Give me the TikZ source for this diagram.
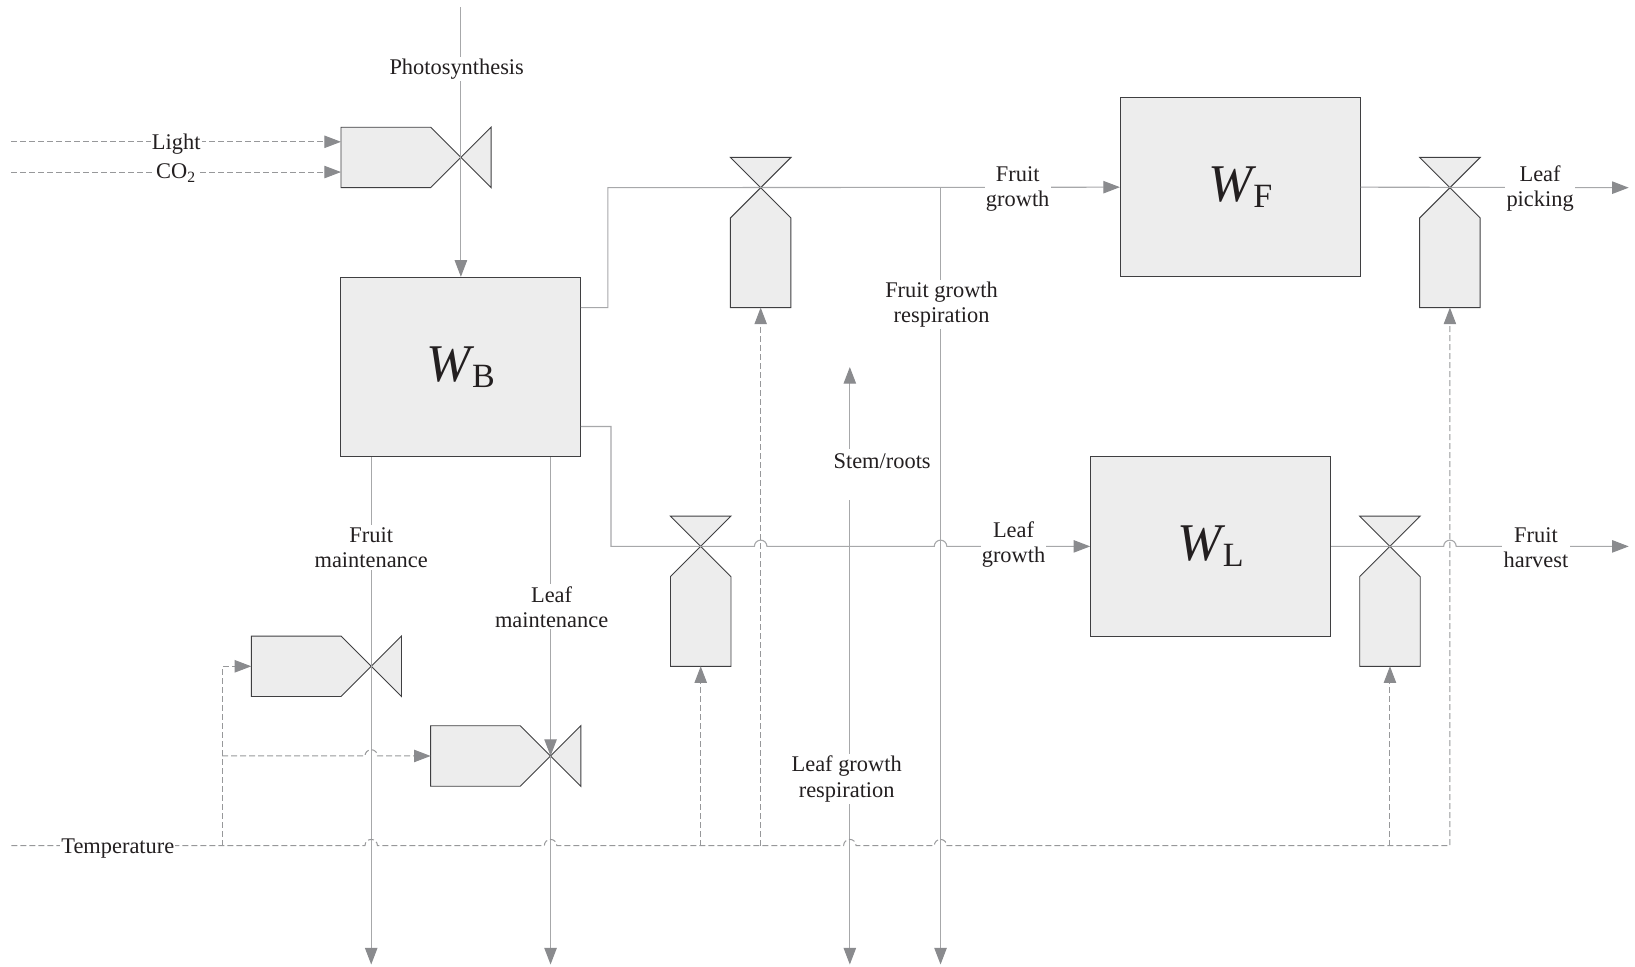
\documentclass[tikz,border=0pt]{standalone}
\usepackage{fontspec}
\setmainfont{Liberation Serif}
\usetikzlibrary{arrows.meta}
\definecolor{boxfill}{HTML}{EDEDED}
\definecolor{edgedark}{HTML}{3F3F41}
\definecolor{flowgray}{HTML}{A7A8AA}
\definecolor{infogray}{HTML}{97989A}
\definecolor{tipgray}{HTML}{8A8B8E}
\definecolor{inktext}{HTML}{231F20}
\newcommand{\stock}[1]{\raisebox{-1.2pt}{{\fontsize{26.5}{26.5}\selectfont\itshape W}\kern0.5pt\raisebox{-3.2pt}{\fontsize{17}{17}\selectfont #1}}}
\newcommand{\hop}[2]{-- ({#1-6},#2) arc[start angle=180,end angle=360,radius=6]}
\tikzset{
  hvalve/.pic={
    \draw[valve] (-115,-29) -- (-29,-29) -- (29,29) -- (29,-29) -- (-29,29) -- (-115,29) -- cycle;
    \coordinate (-x) at (0,0);
    \coordinate (-in) at (-115,0);
  },
  vvalve/.pic={
    \draw[valve] (-29,-29) -- (29,-29) -- (-29,29) -- (-29,115) -- (29,115) -- (29,29) -- cycle;
    \coordinate (-x) at (0,0);
    \coordinate (-in) at (0,115);
  }
}
\begin{document}
\begin{tikzpicture}[
  x=0.52135pt, y=-0.52135pt,
  stockbox/.style = {draw=edgedark, fill=boxfill, line width=0.5pt, text=inktext,
    minimum width=119.9pt, minimum height=89.7pt, inner sep=0pt},
  valve/.style = {draw=edgedark, fill=boxfill, line width=0.45pt},
  flow/.style = {draw=flowgray, line width=0.55pt},
  flowto/.style = {flow, -{Triangle[length=8.3pt,width=6.2pt,color=tipgray]}},
  info/.style = {draw=infogray, line width=0.5pt, dash pattern=on 3pt off 1.5pt},
  infoto/.style = {info, -{Triangle[length=8.3pt,width=6.2pt,color=tipgray]}},
  lbl/.style = {fill=white, text=inktext, align=center, inner xsep=0.6pt, inner ysep=1pt,
    font=\fontsize{11.2}{12.6}\selectfont}
  ]
  \useasboundingbox (0,0) rectangle (1568,927);

  \node[stockbox] (wb) at (442,352) {\stock{B}};
  \node[stockbox] (wf) at (1189.5,179.5) {\stock{F}};
  \node[stockbox] (wl) at (1161,524) {\stock{L}};

  \pic (vphoto) at (442,151) {hvalve};
  \pic (vfm) at (356,639) {hvalve};
  \pic (vlm) at (528,725) {hvalve};
  \pic (vfg) at (729.5,180) {vvalve};
  \pic (vlp) at (1390.5,180) {vvalve};
  \pic (vlg) at (672,524) {vvalve};
  \pic (vfh) at (1333,524) {vvalve};

  \coordinate (photoin) at (442,7);
  \coordinate (lightin) at (11,136);
  \coordinate (co2in) at (11,165);
  \coordinate (tempin) at (11,811);
  \coordinate (fgout) at (557,295);
  \coordinate (lgout) at (557,409);
  \coordinate (fgtee) at (902,180);
  \coordinate (fgrend) at (902,925);
  \coordinate (lgtee) at (815,524);
  \coordinate (stemend) at (815,352);
  \coordinate (lgrend) at (815,925);
  \coordinate (fmend) at (356,925);
  \coordinate (lmend) at (528,925);
  \coordinate (lpend) at (1562,180);
  \coordinate (fhend) at (1562,524);
  \coordinate (tempa) at (213,811);
  \coordinate (tempb) at (213,725);

  \draw[flowto] (photoin) -- (wb.north);
  \draw[flowto] (fgout) -| (583,180) -- (wf.west);
  \draw[flowto] (lgout) -| (586,524) \hop{729.5}{524} \hop{902}{524} -- (wl.west);
  \draw[flowto] (wf.east) -- (lpend);
  \draw[flowto] (wl.east) \hop{1390.5}{524} -- (fhend);
  \draw[flowto] (fgtee) -- (fgrend);
  \draw[flowto] (lgtee) -- (stemend);
  \draw[flowto] (lgtee) -- (lgrend);
  \draw[flowto] (wb.south -| vfm-x) -- (fmend);
  \draw[flowto] (wb.south -| vlm-x) -- (vlm-x);
  \draw[flowto] (vlm-x) -- (lmend);

  \draw[infoto] (lightin) -- (lightin -| vphoto-in);
  \draw[infoto] (co2in) -- (co2in -| vphoto-in);
  \draw[infoto] (tempin) \hop{356}{811} \hop{528}{811} \hop{815}{811} \hop{902}{811} -| (vlp-in);
  \draw[infoto] (tempa) |- (vfm-in);
  \draw[infoto] (tempb) \hop{356}{725} -- (vlm-in);
  \draw[infoto] (tempin -| vlg-x) -- (vlg-in);
  \draw[infoto] (tempin -| vfg-x) -- (vfg-in);
  \draw[infoto] (tempin -| vfh-x) -- (vfh-in);

  \node[lbl] (photolbl) at (438,66) {Photosynthesis};
  \node[lbl] (lightlbl) at (169,138) {Light};
  \node[lbl] (co2lbl) at (169,166) {CO\textsubscript{2}};
  \node[lbl] (fglbl) at (976,181) {Fruit\\growth};
  \node[lbl] (fgrlbl) at (903,292) {Fruit growth\\respiration};
  \node[lbl] (lglbl) at (972,522) {Leaf\\growth};
  \node[lbl] (lplbl) at (1477,181) {Leaf\\picking};
  \node[lbl] (fhlbl) at (1473,525) {Fruit\\harvest};
  \node[lbl] (fmlbl) at (356,525) {Fruit\\maintenance};
  \node[lbl] (lmlbl) at (529,582) {Leaf\\maintenance};
  \node[lbl, anchor=north, inner ysep=0pt, text height=10pt, text depth=15.8pt] (stemlbl) at (846,430) {Stem/roots};
  \node[lbl] (lgrlbl) at (812,747) {Leaf growth\\respiration};
  \node[lbl] (templbl) at (113,814) {Temperature};
\end{tikzpicture}
\end{document}
